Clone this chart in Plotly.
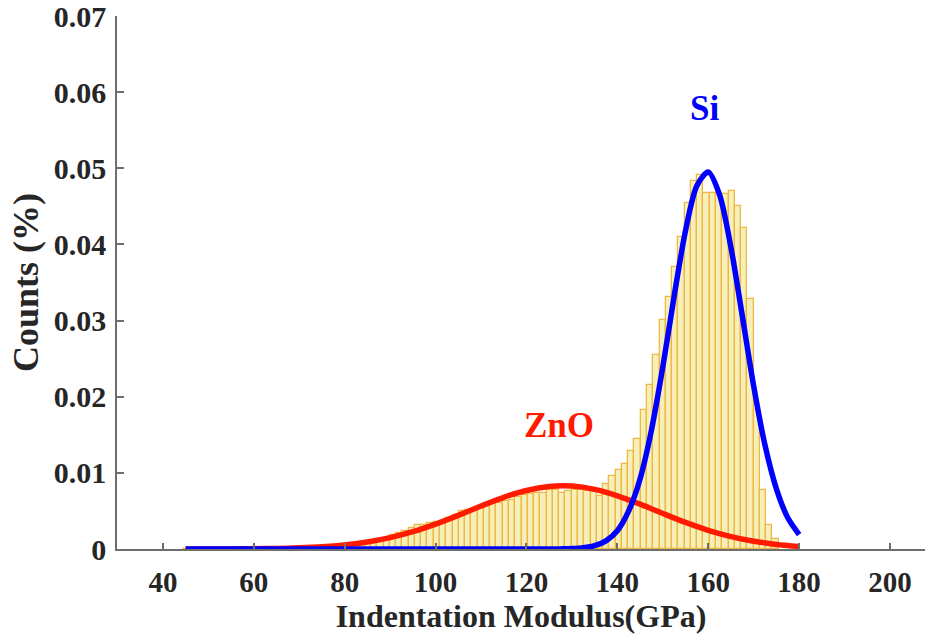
import plotly.graph_objects as go

# ---------------- data ----------------
HIST_START = 44.4      # GPa, left edge of first bin
BIN_WIDTH = 1.38       # GPa

hist_counts = [
    0.00003, 0.00003, 0.00003, 0.00004, 0.00004, 0.00005, 0.00005, 0.00006, 0.00006, 0.00007,
    0.00008, 0.00009, 0.00010, 0.00011, 0.00012, 0.00014, 0.00016, 0.00018, 0.00020, 0.00023,
    0.00026, 0.00030, 0.00034, 0.00038, 0.00043, 0.00049, 0.00055, 0.00062, 0.00070, 0.00080,
    0.0010, 0.0012, 0.0015, 0.0018, 0.0021, 0.0024, 0.0027, 0.0031, 0.0032, 0.0034,
    0.0035, 0.0037, 0.0041, 0.0045, 0.0050, 0.0051, 0.0052, 0.0054, 0.0056, 0.0059,
    0.0061, 0.0063, 0.0065, 0.0068, 0.0071, 0.0072, 0.0073, 0.0074, 0.0077, 0.0077,
    0.0074, 0.0076, 0.0077, 0.0077, 0.0076, 0.0075, 0.0070, 0.0086, 0.0096, 0.0104,
    0.0111, 0.0129, 0.0144, 0.0182, 0.0216, 0.0255, 0.0301, 0.0331, 0.0371, 0.0410,
    0.0455, 0.0483, 0.0491, 0.0468, 0.0467, 0.0467, 0.0466, 0.0470, 0.0451, 0.0422,
    0.0328, 0.0182, 0.0077, 0.0031, 0.0013,
]

zno_x = [45, 50, 55, 60, 65, 70, 75, 80, 85, 90, 95, 100, 105, 110, 115, 120, 125,
         130, 135, 140, 145, 150, 155, 160, 165, 170, 175, 180]
zno_y = [0.0, 0.000006, 0.000015, 0.000034, 0.000074, 0.00015, 0.00029, 0.00054,
         0.00092, 0.00149, 0.00227, 0.00327, 0.00442, 0.00564, 0.00679, 0.00769,
         0.00821, 0.00826, 0.00783, 0.00699, 0.00589, 0.00467, 0.00349, 0.00246,
         0.00163, 0.00102, 0.00060, 0.00033]

si_x = [45, 60, 80, 100, 115, 120, 125, 127.5, 130, 132.5, 135, 137.5, 140, 142.5,
        145, 147.5, 150, 152.5, 155, 157.5, 160, 162.5, 165, 167.5, 170, 172.5,
        175, 177.5, 180]
si_y = [0.0, 0.0, 0.0, 0.0, 0.0, 0.0, 0.0000005, 0.000015, 0.00005, 0.00016,
        0.00043, 0.00107, 0.0024, 0.0050, 0.0092, 0.0156, 0.0239, 0.0332, 0.0418,
        0.0477, 0.0495, 0.0465, 0.0396, 0.0306, 0.0214, 0.0136, 0.0079, 0.0041, 0.0019]

x_ticks = [40, 60, 80, 100, 120, 140, 160, 180, 200]
y_ticks = [0, 0.01, 0.02, 0.03, 0.04, 0.05, 0.06, 0.07]
y_tick_text = ["0", "0.01", "0.02", "0.03", "0.04", "0.05", "0.06", "0.07"]

labels = [("Si", 159.1, 0.0579, "#0000FF"), ("ZnO", 127.1, 0.0162, "#FF1A00")]

# ---------------- figure ----------------
bin_centers = [HIST_START + BIN_WIDTH * (i + 0.5) for i in range(len(hist_counts))]

FONT = "Liberation Serif"
TXT = "#262626"
AX = "#6E6E6E"

fig = go.Figure()
fig.add_trace(go.Bar(
    x=bin_centers, y=hist_counts, width=BIN_WIDTH,
    marker=dict(color="#F6EFB9", line=dict(color="#EFB843", width=1.3)),
    showlegend=False, hoverinfo="skip",
))
fig.add_trace(go.Scatter(
    x=zno_x, y=zno_y, mode="lines", line=dict(color="#FF1A00", width=5.5, shape="spline", smoothing=0.8),
    showlegend=False,
))
fig.add_trace(go.Scatter(
    x=si_x, y=si_y, mode="lines", line=dict(color="#0000FF", width=5.5, shape="spline", smoothing=0.8),
    showlegend=False,
))

for text, x, y, c in labels:
    fig.add_annotation(x=x, y=y, text=f"<b>{text}</b>", showarrow=False,
                       font=dict(family=FONT, size=35, color=c))

fig.update_layout(
    width=925, height=638,
    margin=dict(l=117, r=0, t=14, b=89),
    paper_bgcolor="white", plot_bgcolor="white",
    bargap=0,
    font=dict(family=FONT, color=TXT),
)
fig.update_xaxes(
    range=[29.9, 207.7], tickvals=x_ticks, ticktext=[f"<b>{t}</b>" for t in x_ticks],
    ticks="inside", ticklen=6, tickwidth=1.5, tickcolor=AX,
    showline=True, linecolor=AX, linewidth=1.5, showgrid=False, zeroline=False,
    tickfont=dict(family=FONT, size=29, color=TXT), ticklabelstandoff=6,
    title=dict(text="<b>Indentation Modulus(GPa)</b>", font=dict(family=FONT, size=32, color=TXT), standoff=4),
)
fig.update_yaxes(
    range=[0, 0.070002], tickvals=y_ticks, ticktext=[f"<b>{t}</b>" for t in y_tick_text],
    ticks="inside", ticklen=7, tickwidth=1.5, tickcolor=AX,
    showline=True, linecolor=AX, linewidth=1.5, showgrid=False, zeroline=False,
    tickfont=dict(family=FONT, size=30, color=TXT), ticklabelstandoff=3,
    ticklabeloverflow="allow",
    title=dict(text="<b>Counts (%)</b>", font=dict(family=FONT, size=36, color=TXT), standoff=4),
)

fig.write_html("out.html")
